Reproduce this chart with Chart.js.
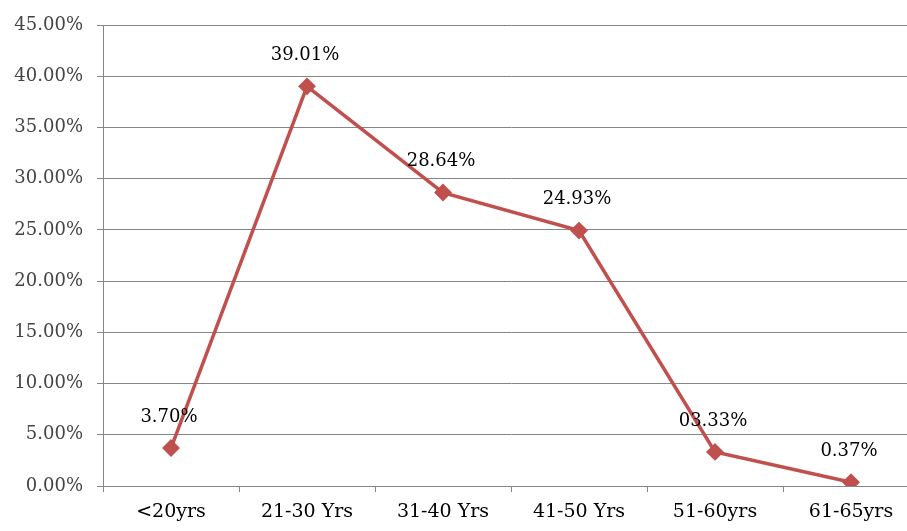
<!DOCTYPE html>
<html lang="en">
<head>
  <meta charset="UTF-8" />
  <title>Age Distribution</title>
  <script src="https://cdn.jsdelivr.net/npm/chart.js"></script>
  <style>
    html, body {
      margin: 0;
      padding: 0;
      background: #fff;
      overflow: hidden;
    }
  </style>
</head>
<body>
  <canvas id="ageChart" width="929" height="531"></canvas>

  <script>
    const categories = ['<20yrs', '21-30 Yrs', '31-40 Yrs', '41-50 Yrs', '51-60yrs', '61-65yrs'];
    const percentages = [3.70, 39.01, 28.64, 24.93, 3.33, 0.37];
    const pointLabels = ['3.70%', '39.01%', '28.64%', '24.93%', '03.33%', '0.37%'];
    const yTicks = [0, 5, 10, 15, 20, 25, 30, 35, 40, 45];

    // draws the value text above each point
    const valueLabels = {
      id: 'valueLabels',
      afterDatasetsDraw(chart) {
        const ctx = chart.ctx;
        const meta = chart.getDatasetMeta(0);
        ctx.save();
        ctx.font = '18px "DejaVu Serif"';
        ctx.fillStyle = '#000';
        ctx.textAlign = 'center';
        ctx.textBaseline = 'middle';
        meta.data.forEach((pt, i) => {
          ctx.fillText(pointLabels[i], pt.x - 2, pt.y - 31);
        });
        ctx.restore();
      }
    };

    new Chart(document.getElementById('ageChart'), {
      type: 'line',
      data: {
        labels: categories,
        datasets: [{
          data: percentages,
          borderColor: '#C0504D',
          backgroundColor: '#C0504D',
          borderWidth: 3.5,
          pointStyle: 'rectRot',
          pointRadius: 6.5,
          pointHoverRadius: 6.5,
          tension: 0
        }]
      },
      options: {
        responsive: false,
        animation: false,
        layout: {
          padding: { top: 25, right: 3, bottom: 0, left: 0 }
        },
        plugins: {
          legend: { display: false },
          tooltip: { enabled: false }
        },
        scales: {
          x: {
            offset: true,
            grid: {
              offset: true,
              drawOnChartArea: false,
              drawTicks: true,
              tickLength: 6,
              color: '#868686'
            },
            border: { color: '#868686', width: 1 },
            ticks: {
              color: '#000',
              padding: 9,
              maxRotation: 0,
              font: { family: '"DejaVu Serif"', size: 19 }
            },
            afterFit(scale) { scale.height = 45; }
          },
          y: {
            min: 0,
            max: 45,
            afterBuildTicks(scale) {
              scale.ticks = yTicks.map(v => ({ value: v }));
            },
            grid: {
              color: '#868686',
              tickLength: 6
            },
            border: { color: '#868686', width: 1 },
            ticks: {
              color: '#444',
              padding: 14,
              font: { family: '"DejaVu Serif"', size: 18 },
              callback: v => v.toFixed(2) + '%'
            },
            afterFit(scale) { scale.width = 103; }
          }
        }
      },
      plugins: [valueLabels]
    });
  </script>
</body>
</html>
